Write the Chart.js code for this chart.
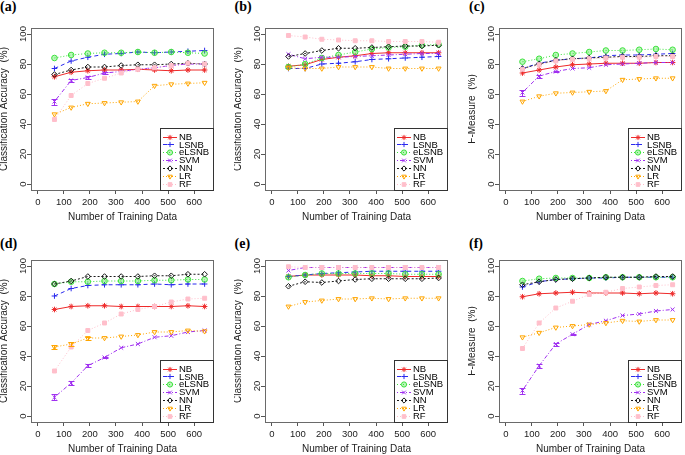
<!DOCTYPE html>
<html><head><meta charset="utf-8">
<script src="https://cdn.jsdelivr.net/npm/chart.js@4/dist/chart.umd.min.js"></script>
<style>
html,body{margin:0;padding:0;background:#fff;overflow:hidden;width:685px;height:455px;position:relative;}
canvas{position:absolute;}
.lab{position:absolute;font:bold 14px "Liberation Serif","Times New Roman",serif;line-height:14px;color:#000;white-space:nowrap;}
</style></head><body>
<script>
// ---- shared axis data ----
const xValues = [64, 128, 192, 256, 320, 384, 448, 512, 576, 640];
const xTicks = [0, 100, 200, 300, 400, 500, 600];
const yTicks = [0, 20, 40, 60, 80, 100];
const seriesNames = ['NB', 'LSNB', 'eLSNB', 'SVM', 'NN', 'LR', 'RF'];
const panelLabels = ['(a)', '(b)', '(c)', '(d)', '(e)', '(f)'];
const xTitle = 'Number of Training Data';
const accTitle = 'Classification Accuracy  (%)';
const fmTitle = 'F-Measure  (%)';

// ---- panel (a) ----
const a_NB    = [71.5, 74.5, 75.5, 76, 76, 76.5, 76, 75.5, 76, 76];
const a_LSNB  = [77, 82, 84.5, 86.5, 87, 88, 87.5, 88, 88.5, 89];
const a_eLSNB = [84, 86, 87, 87.5, 87.5, 88, 87.5, 88, 87.5, 87];
const a_SVM   = [55, 69, 71, 74, 75, 76.5, 77.5, 79, 80, 80];
const a_NN    = [73, 76, 78, 78, 79, 79.5, 79.5, 80, 80.5, 80];
const a_LR    = [46.5, 51, 53.5, 54, 54.5, 55, 65.5, 66.5, 67, 67.5];
const a_RF    = [43, 59, 67, 70.5, 74, 76.5, 77.5, 79, 80.5, 80];
const a_SVM_err = [2, 1, 0.8, 0.5, 0, 0, 0, 0, 0, 0];

// ---- panel (b) ----
const b_NB    = [78.5, 79.5, 83, 84.5, 85.5, 87, 87.5, 87.5, 87.5, 87.5];
const b_LSNB  = [77, 77, 80, 80.5, 81.5, 83, 83.5, 84, 84.5, 85];
const b_eLSNB = [78, 80, 84, 86, 88, 90, 91, 91.5, 92.5, 93];
const b_SVM   = [86.5, 83.5, 84.5, 84.5, 85, 85.5, 86, 86.5, 87, 87];
const b_NN    = [85, 87, 89, 90.5, 90.5, 91, 91.5, 92, 92, 92.5];
const b_LR    = [77.5, 77, 77, 78, 78, 78, 77, 77, 77, 77];
const b_RF    = [99, 98, 96.5, 96, 95.5, 95.5, 95, 95, 95, 94.5];

// ---- panel (c) ----
const c_NB    = [74, 76, 78, 79.5, 80, 80.5, 80.5, 80.5, 81, 81];
const c_LSNB  = [77, 80.5, 82.5, 83.5, 84, 85.5, 86, 86, 86.5, 87];
const c_eLSNB = [81.5, 83.5, 86, 87, 88, 89, 89, 89.5, 90, 89.5];
const c_SVM   = [61, 72, 75, 77, 77.5, 79.5, 80, 80.5, 81, 81];
const c_NN    = [77, 80, 82.5, 83.5, 84, 84.5, 85, 85, 85.5, 85.5];
const c_LR    = [55, 58.5, 60.5, 61, 61.5, 62, 69.5, 70, 70.5, 70.5];
const c_RF    = [76.5, 79.5, 82, 83, 83.5, 84, 84.5, 84.5, 85, 85];
const c_SVM_err = [2, 1, 0.5, 0, 0, 0, 0, 0, 0, 0];

// ---- panel (d) ----
const d_NB    = [71, 73, 73.5, 73.5, 73, 73, 73, 73, 73.5, 73];
const d_LSNB  = [80, 85, 87, 87.5, 87.5, 87.5, 88, 87.5, 88, 88];
const d_eLSNB = [88, 89.5, 89.5, 90, 90, 90, 90.5, 90.5, 91, 91];
const d_SVM   = [12.5, 22, 33.5, 39, 45.5, 48, 52.5, 53.5, 56, 57];
const d_NN    = [88, 90, 93, 93, 93, 93, 93.5, 93.5, 94.5, 94.5];
const d_LR    = [46, 48, 52, 52, 53, 54, 56, 56, 57, 56.5];
const d_RF    = [30, 46, 57, 62, 68, 71, 73, 76, 78, 78.5];
const d_SVM_err = [2, 1.5, 1, 0.5, 0, 0, 0, 0, 0, 0];
const d_LR_err  = [1.2, 1.2, 1, 0, 0, 0, 0, 0, 0, 0];

// ---- panel (e) ----
const e_NB    = [93, 94, 94, 94, 94, 93.5, 93.5, 93, 93, 93];
const e_LSNB  = [93, 94, 95, 95.5, 96, 96.5, 96.5, 96.5, 96.5, 96.5];
const e_eLSNB = [92.5, 94, 95, 95, 95, 95, 95, 94.5, 94.5, 94.5];
const e_SVM   = [97, 99, 99, 99, 99, 99, 99, 99, 99, 99];
const e_NN    = [86.5, 89.5, 89, 90, 91, 91.5, 91.5, 91.5, 91.5, 92];
const e_LR    = [73, 76, 77, 78, 78, 78.5, 78, 78.5, 78.5, 78.5];
const e_RF    = [99.5, 99, 99, 99, 99, 99, 99, 99, 99, 99];

// ---- panel (f) ----
const f_NB    = [79.5, 81.5, 82, 82.5, 82, 82, 82, 81.5, 82, 81.5];
const f_LSNB  = [86, 89.5, 91, 91.5, 92, 92, 92.5, 92.5, 92.5, 92.5];
const f_eLSNB = [90, 91.5, 92, 92, 92, 92.5, 92.5, 92.5, 92.5, 92.5];
const f_SVM   = [17, 33.5, 48, 54.5, 61, 63.5, 67, 68, 70, 71];
const f_NN    = [87.5, 89.5, 91, 91.5, 92, 92.5, 92.5, 92.5, 93, 93];
const f_LR    = [52.5, 55.5, 59, 60, 61, 62, 63.5, 63, 64, 64];
const f_RF    = [45, 62, 72, 76.5, 81, 82.5, 85, 86, 87, 87.5];
const f_SVM_err = [2, 1.5, 1, 0.5, 0, 0, 0, 0, 0, 0];

// ---- styles ----
const seriesStyles = [
  {color: '#ee2a2a', dash: [],           point: 'star',     rot: 0,   fill: '#ee2a2a'},
  {color: '#2a2aee', dash: [4, 3],       point: 'cross',    rot: 0,   fill: '#2a2aee'},
  {color: '#3de23d', dash: [1, 2],       point: 'circle',   rot: 0,   fill: 'rgba(61,226,61,0.35)'},
  {color: '#a030f0', dash: [1, 2, 4, 2], point: 'crossRot', rot: 0,   fill: '#a030f0'},
  {color: '#1a1a1a', dash: [2, 2],       point: 'rectRot',  rot: 0,   fill: 'rgba(0,0,0,0)'},
  {color: '#ffa500', dash: [1, 2],       point: 'triangle', rot: 180, fill: 'rgba(0,0,0,0)'},
  {color: '#ffbfcb', dash: [1, 2],       point: 'rect',     rot: 0,   fill: '#ffbfcb'}
];

const panels = [
  {yTitle: accTitle, series: [a_NB, a_LSNB, a_eLSNB, a_SVM, a_NN, a_LR, a_RF], errs: {3: a_SVM_err}},
  {yTitle: accTitle, series: [b_NB, b_LSNB, b_eLSNB, b_SVM, b_NN, b_LR, b_RF], errs: {}},
  {yTitle: fmTitle,  series: [c_NB, c_LSNB, c_eLSNB, c_SVM, c_NN, c_LR, c_RF], errs: {3: c_SVM_err}},
  {yTitle: accTitle, series: [d_NB, d_LSNB, d_eLSNB, d_SVM, d_NN, d_LR, d_RF], errs: {3: d_SVM_err, 5: d_LR_err}},
  {yTitle: accTitle, series: [e_NB, e_LSNB, e_eLSNB, e_SVM, e_NN, e_LR, e_RF], errs: {}},
  {yTitle: fmTitle,  series: [f_NB, f_LSNB, f_eLSNB, f_SVM, f_NN, f_LR, f_RF], errs: {3: f_SVM_err}}
];

const FONT = '"Liberation Sans", Arial, sans-serif';

const boxPlugin = {
  id: 'rbox',
  beforeDatasetsDraw(chart) {
    const {ctx, chartArea: ca} = chart;
    ctx.save();
    ctx.strokeStyle = '#6a6a6a';
    ctx.lineWidth = 1;
    ctx.strokeRect(Math.round(ca.left) + 0.5, Math.round(ca.top) + 0.5,
                   Math.round(ca.right - ca.left) - 1, Math.round(ca.bottom - ca.top));
    ctx.restore();
  }
};

const errPlugin = {
  id: 'rerr',
  afterDatasetsDraw(chart) {
    const {ctx, scales: {x, y}} = chart;
    chart.data.datasets.forEach(ds => {
      if (!ds.errors) return;
      ctx.save();
      ctx.strokeStyle = ds.borderColor;
      ctx.lineWidth = 1;
      ds.data.forEach((pt, i) => {
        const e = ds.errors[i];
        if (!e) return;
        const px = Math.round(x.getPixelForValue(pt.x)) + 0.5;
        const y1 = Math.round(y.getPixelForValue(pt.y + e)) + 0.5;
        const y2 = Math.round(y.getPixelForValue(pt.y - e)) + 0.5;
        ctx.beginPath();
        ctx.moveTo(px, y1); ctx.lineTo(px, y2);
        ctx.moveTo(px - 3, y1); ctx.lineTo(px + 3, y1);
        ctx.moveTo(px - 3, y2); ctx.lineTo(px + 3, y2);
        ctx.stroke();
      });
      ctx.restore();
    });
  }
};

const legendPlugin = {
  id: 'rlegend',
  afterDatasetsDraw(chart) {
    const {ctx, chartArea: ca} = chart;
    const w = 54, h = 62;
    const x0 = Math.round(ca.right) - w, y0 = Math.round(ca.bottom) - h;
    ctx.save();
    ctx.fillStyle = '#fff';
    ctx.fillRect(x0, y0, w, h);
    ctx.strokeStyle = '#333';
    ctx.lineWidth = 1;
    ctx.strokeRect(x0 + 0.5, y0 + 0.5, w - 1, h);
    const items = chart.data.datasets.slice().sort((p, q) => p.idx - q.idx);
    items.forEach((ds, i) => {
      const yy = y0 + 8.5 + i * 7.9;
      ctx.setLineDash(ds.borderDash || []);
      ctx.strokeStyle = ds.borderColor;
      ctx.beginPath();
      ctx.moveTo(x0 + 3, Math.round(yy) + 0.5);
      ctx.lineTo(x0 + 17, Math.round(yy) + 0.5);
      ctx.stroke();
      ctx.setLineDash([]);
      ctx.fillStyle = ds.pointBackgroundColor;
      ctx.strokeStyle = ds.pointBorderColor;
      ctx.lineWidth = 1;
      Chart.helpers.drawPoint(ctx, {pointStyle: ds.pointStyle, rotation: ds.pointRotation, radius: 2.6, borderWidth: 1}, x0 + 10, Math.round(yy) + 0.5);
      ctx.fillStyle = '#000';
      ctx.font = '9.5px ' + FONT;
      ctx.textBaseline = 'middle';
      ctx.textAlign = 'left';
      ctx.fillText(ds.label, x0 + 19, yy + 0.5);
    });
    ctx.restore();
  }
};

panels.forEach((p, pi) => {
  const col = pi % 3, row = Math.floor(pi / 3);
  const left = col * 234, top = row * 232;

  const lab = document.createElement('div');
  lab.className = 'lab';
  lab.textContent = panelLabels[pi];
  lab.style.left = (col * 234.5) + 'px';
  lab.style.top = (row === 0 ? 0 : 237) + 'px';
  document.body.appendChild(lab);

  const cv = document.createElement('canvas');
  cv.width = 219; cv.height = 223;
  cv.style.left = left + 'px'; cv.style.top = top + 'px';
  cv.style.width = '219px'; cv.style.height = '223px';
  document.body.appendChild(cv);

  const datasets = p.series.map((arr, si) => {
    const st = seriesStyles[si];
    return {
      label: seriesNames[si],
      idx: si,
      order: 6 - si,
      data: xValues.map((xv, k) => ({x: xv, y: arr[k]})),
      borderColor: st.color,
      borderWidth: 1,
      borderDash: st.dash,
      pointStyle: st.point,
      pointRotation: st.rot,
      pointRadius: 2.8,
      pointBorderWidth: 1,
      pointBorderColor: st.color,
      pointBackgroundColor: st.fill,
      fill: false,
      tension: 0,
      errors: p.errs[si] || null
    };
  });

  new Chart(cv, {
    type: 'line',
    data: {datasets},
    plugins: [boxPlugin, errPlugin, legendPlugin],
    options: {
      responsive: false,
      animation: false,
      devicePixelRatio: 1,
      events: [],
      layout: {padding: {top: 28, left: 0, right: 1, bottom: 0}},
      plugins: {legend: {display: false}, tooltip: {enabled: false}},
      scales: {
        x: {
          type: 'linear', min: -26, max: 676,
          afterBuildTicks: s => { s.ticks = xTicks.map(v => ({value: v})); },
          afterFit: s => { s.height = 33; },
          grid: {drawOnChartArea: false, drawTicks: true, tickLength: 4, color: '#555', lineWidth: 1},
          border: {display: false},
          ticks: {font: {size: 9.5, family: FONT}, color: '#222', padding: 3, maxRotation: 0, autoSkip: false},
          title: {display: true, text: xTitle, color: '#222', font: {size: 10, family: FONT}, padding: {top: 0, bottom: 0}}
        },
        y: {
          type: 'linear', min: -4, max: 104,
          afterBuildTicks: s => { s.ticks = yTicks.map(v => ({value: v})); },
          afterFit: s => { s.width = 31; },
          grid: {drawOnChartArea: false, drawTicks: true, tickLength: 4, color: '#555', lineWidth: 1},
          border: {display: false},
          ticks: {font: {size: 9.5, family: FONT}, color: '#222', padding: -4, minRotation: 90, maxRotation: 90, crossAlign: 'center', autoSkip: false},
          title: {display: true, text: p.yTitle, color: '#222', font: {size: 10, family: FONT}, padding: {top: -1.5, bottom: 0}}
        }
      }
    }
  });
});
</script>
</body></html>
